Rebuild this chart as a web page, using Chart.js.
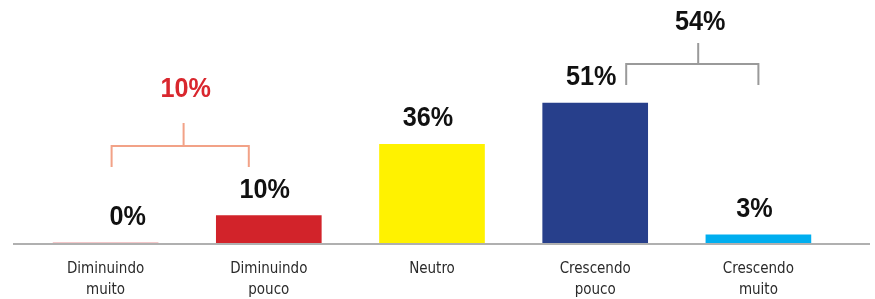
<!DOCTYPE html>
<html>
<head>
<meta charset="utf-8">
<script src="https://cdn.jsdelivr.net/npm/chart.js@4/dist/chart.umd.min.js"></script>
<style>
  html, body { margin: 0; padding: 0; background: #fff; }
  #wrap { width: 875px; height: 299px; position: relative; }
</style>
</head>
<body>
<div id="wrap"><canvas id="chart"></canvas></div>
<script>
// Chart data
const categories = [
  ["Diminuindo", "muito"],
  ["Diminuindo", "pouco"],
  ["Neutro"],
  ["Crescendo", "pouco"],
  ["Crescendo", "muito"]
];
const values = [0, 10, 36, 51, 3];
const barColors = ["#d2232a", "#d2232a", "#fff200", "#273f8b", "#00aeef"];

// Grouped totals shown with brackets above the bars
const groupFrom = [0, 3];
const groupTo = [1, 4];
const groupTotals = [10, 54];
const groupColors = ["#f2a287", "#9a9a9a"];
const groupTextColors = ["#d9272e", "#111111"];

const BIG_FONT = "bold 28px 'Liberation Sans', Arial, sans-serif";
const TICK_FONT = "'DejaVu Sans Condensed', 'Liberation Sans', sans-serif";

// narrow-ish bold text, squeezed a little horizontally
const drawNarrow = (ctx, text, x, y, color) => {
  ctx.save();
  ctx.translate(x, y);
  ctx.scale(0.9, 1);
  ctx.font = BIG_FONT;
  ctx.fillStyle = color;
  ctx.textAlign = "center";
  ctx.textBaseline = "alphabetic";
  ctx.fillText(text, 0, 0);
  ctx.restore();
};

// Value labels over each bar
const valueLabels = {
  id: "valueLabels",
  afterDatasetsDraw(chart) {
    const { ctx } = chart;
    const meta = chart.getDatasetMeta(0);
    meta.data.forEach((bar, i) => {
      const dx = i === 0 ? 22 : -4;
      drawNarrow(ctx, values[i] + "%", bar.x + dx, bar.y - 18, "#111");
    });
  }
};

// Brackets joining two bars with their total
const brackets = {
  id: "brackets",
  afterDatasetsDraw(chart) {
    const { ctx } = chart;
    const meta = chart.getDatasetMeta(0);
    groupTotals.forEach((total, g) => {
      const a = meta.data[groupFrom[g]];
      const b = meta.data[groupTo[g]];
      const left = g === 0 ? a.x + 6 : a.x + 31;
      const right = g === 0 ? b.x - 20 : b.x;
      const hy = g === 0 ? 146 : 64;
      const legLen = 21;
      const stemLen = g === 0 ? 23 : 21;
      const mid = left + 72;
      ctx.save();
      ctx.strokeStyle = groupColors[g];
      ctx.lineWidth = 2;
      ctx.beginPath();
      ctx.moveTo(left, hy + legLen);
      ctx.lineTo(left, hy);
      ctx.lineTo(right, hy);
      ctx.lineTo(right, hy + legLen);
      ctx.moveTo(mid, hy);
      ctx.lineTo(mid, hy - stemLen);
      ctx.stroke();
      ctx.restore();
      const labelY = g === 0 ? 97 : 30;
      drawNarrow(ctx, total + "%", mid + 2, labelY, groupTextColors[g]);
    });
  }
};

// Full-width baseline
const baseline = {
  id: "baseline",
  afterDatasetsDraw(chart) {
    const { ctx } = chart;
    const y = chart.scales.y.getPixelForValue(0);
    ctx.save();
    ctx.strokeStyle = "#b0b0b0";
    ctx.lineWidth = 2;
    ctx.beginPath();
    ctx.moveTo(13, y + 1);
    ctx.lineTo(870, y + 1);
    ctx.stroke();
    ctx.restore();
  }
};

new Chart(document.getElementById("chart"), {
  type: "bar",
  data: {
    labels: categories,
    datasets: [{
      data: values,
      backgroundColor: barColors,
      borderWidth: 0,
      barThickness: 105
    }]
  },
  options: {
    responsive: true,
    maintainAspectRatio: false,
    animation: false,
    layout: { padding: { left: 24, right: 35, top: 10, bottom: -18 } },
    plugins: { legend: { display: false }, tooltip: { enabled: false } },
    scales: {
      x: {
        grid: { display: false, drawTicks: false },
        border: { display: false },
        ticks: {
          color: "#2a2a2a",
          font: { family: TICK_FONT, size: 15, lineHeight: 1.4 },
          padding: 16,
          maxRotation: 0
        }
      },
      y: {
        display: false,
        min: 0,
        max: 85
      }
    }
  },
  plugins: [baseline, valueLabels, brackets]
});
</script>
</body>
</html>
